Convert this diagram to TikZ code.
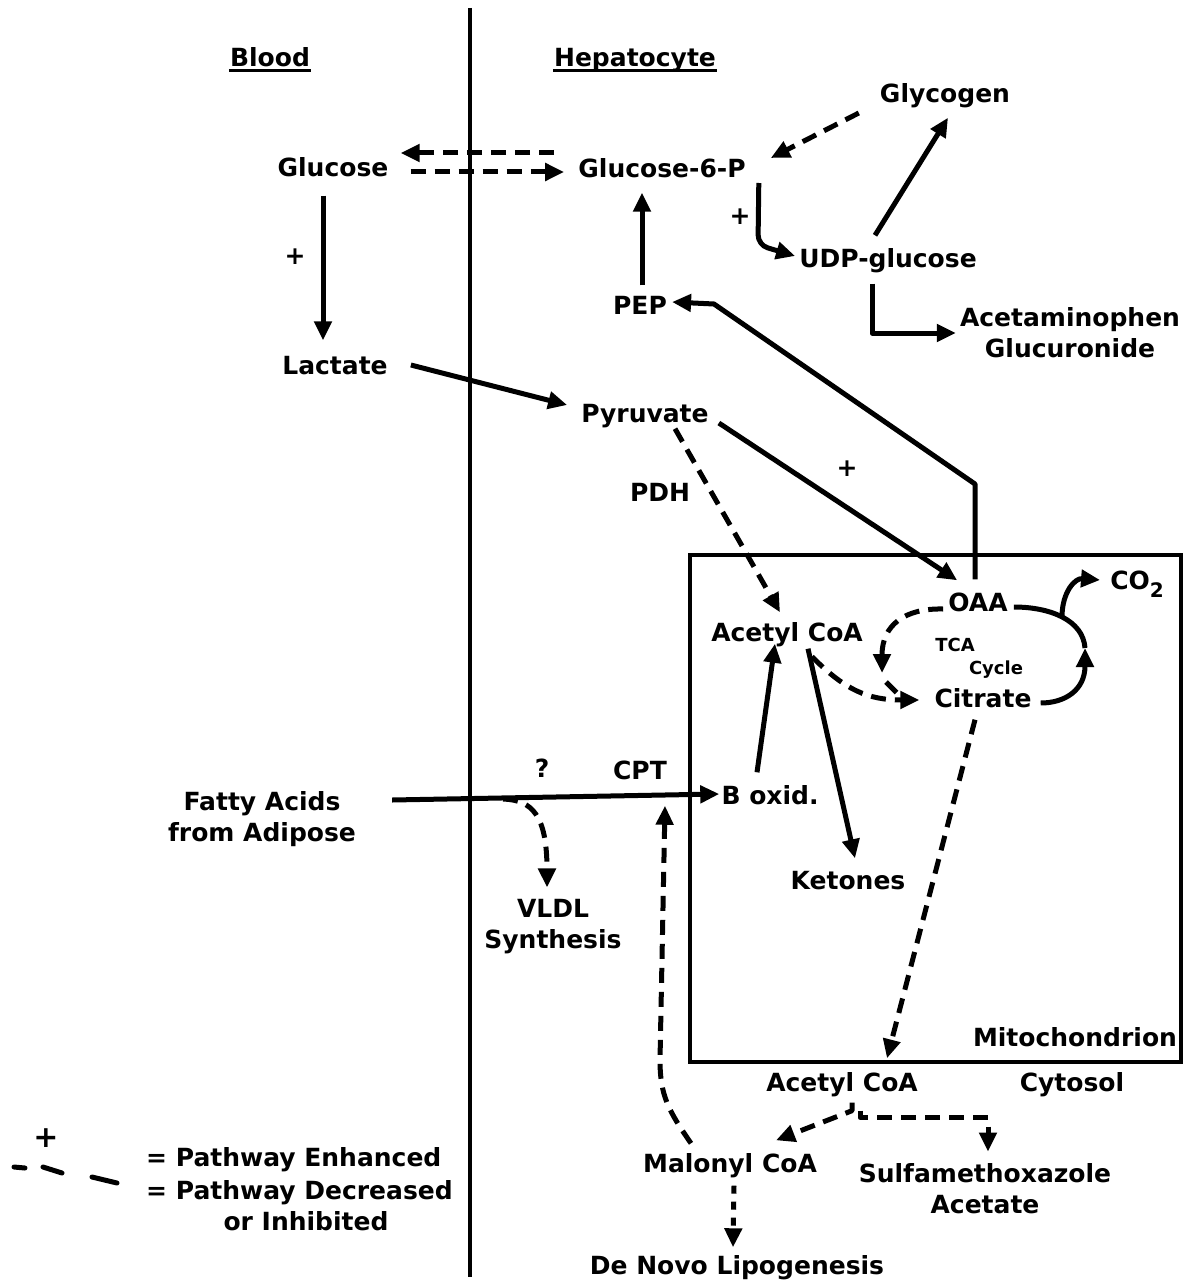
\documentclass[tikz,border=0pt]{standalone}
\usepackage{fontspec}
\setmainfont{DejaVu Sans}
\usetikzlibrary{arrows.meta}
\begin{document}
\begin{tikzpicture}[x=1pt,y=-1pt,
  lbl/.style={font=\fontsize{25}{31}\selectfont\bfseries, inner sep=4pt, text height=18pt, text depth=5pt},
  lbltwo/.style={font=\fontsize{25}{31}\selectfont\bfseries, inner sep=4pt, align=center},
  small/.style={font=\fontsize{18}{20}\selectfont\bfseries, inner sep=1pt},
  heavy/.style={line width=5pt, line join=round},
  flow/.style={heavy, -{Triangle[length=19pt,width=17pt]}},
  dflow/.style={flow, dash pattern=on 15pt off 9pt},
  dline/.style={heavy, dash pattern=on 15pt off 9pt},
  wall/.style={line width=4.5pt},
]
\useasboundingbox (0,0) rectangle (1184,1284);

% compartments
\draw[wall] (470,8) -- (470,1277);
\draw[wall] (690,555) rectangle (1181,1062);

% headings
\node[lbl] (blood) at (270,60) {Blood};
\node[lbl] (hep) at (635,60) {Hepatocyte};
\draw[line width=3pt, shorten <=3pt, shorten >=3pt] ([yshift=-4pt]blood.base west) -- ([yshift=-4pt]blood.base east);
\draw[line width=3pt, shorten <=3pt, shorten >=3pt] ([yshift=-4pt]hep.base west) -- ([yshift=-4pt]hep.base east);

% metabolites
\node[lbl] (glc) at (333,170) {Glucose};
\node[lbl] (g6p) at (662,171) {Glucose-6-P};
\node[lbl] (glyc) at (945,96) {Glycogen};
\node[lbl] (udp) at (888,261) {UDP-glucose};
\node[lbl] (pep) at (640,308) {PEP};
\node[lbltwo] (apap) at (1070,333) {Acetaminophen\\Glucuronide};
\node[lbl] (lac) at (335,368) {Lactate};
\node[lbl] (pyr) at (645,416) {Pyruvate};
\node[lbl] (pdh) at (660,495) {PDH};
\node[lbl] (plusA) at (847,470) {+};
\node[lbl] (plusB) at (295,258) {+};
\node[lbl] (plusC) at (740,218) {+};
\node[lbl] (acoa) at (787,635) {Acetyl CoA};
\node[lbl] (oaa) at (978,605) {OAA};
\node[small] (tca) at (955,645) {TCA};
\node[small] (cyc) at (996,670) {Cycle};
\node[lbl] (cit) at (983,701) {Citrate};
\node[lbl] (co2) at (1137,583) {CO\raisebox{-8pt}{\fontsize{20}{20}\selectfont 2}};
\node[lbl] (box) at (770,798) {B oxid.};
\node[lbl] (ket) at (848,883) {Ketones};
\node[lbl] (q) at (542,771) {?};
\node[lbl] (cpt) at (640,773) {CPT};
\node[lbltwo] (fa) at (262,819) {Fatty Acids\\from Adipose};
\node[lbltwo] (vldl) at (553,927) {VLDL\\Synthesis};
\node[lbl] (mito) at (1075,1040) {Mitochondrion};
\node[lbl] (acoa2) at (842,1085) {Acetyl CoA};
\node[lbl] (cyto) at (1072,1085) {Cytosol};
\node[lbl] (mal) at (730,1166) {Malonyl CoA};
\node[lbltwo] (smx) at (985,1189) {Sulfamethoxazole\\Acetate};
\node[lbl] (dnl) at (737,1268) {De Novo Lipogenesis};

% bends and branch points
\coordinate (bendA) at (758,245);
\coordinate (kneeA) at (975,484);
\coordinate (kneeB) at (714,304);
\coordinate (tcaR) at (1085,648);
\coordinate (co2fork) at (1062,617);
\coordinate (fork) at (503,799);

% glucose exchange between blood and hepatocyte
\draw[dflow] ([shift={(-20,-18)}]g6p.west) -- ([shift={(8,-17)}]glc.east);
\draw[dflow] ([shift={(18,2)}]glc.east) -- ([shift={(-10,1)}]g6p.west);

% carbohydrate pathways
\draw[flow] ([shift={(-10,10)}]glc.south) -- ([shift={(-12,-12)}]lac.north);
\draw[flow] ([shift={(2,-7)}]pep.north) -- ([shift={(-20,6)}]g6p.south);
\draw[flow, rounded corners=10pt] ([shift={(9,12)}]g6p.east) -- (bendA) -- ([shift={(0,-5)}]udp.west);
\draw[flow] ([shift={(-13,-10)}]udp.north) -- ([shift={(3,6)}]glyc.south);
\draw[dflow] ([shift={(-17,17)}]glyc.west) -- ([shift={(21,-13)}]g6p.east);
\draw[flow] ([shift={(-16,7)}]udp.south) |- (apap.west);
\draw[flow] ([shift={(19,-3)}]lac.east) -- ([shift={(-10,-11)}]pyr.west);
\draw[flow] ([shift={(6,7)}]pyr.east) -- ([shift={(13,-9)}]oaa.north west);
\draw[flow] ([shift={(-3,-10)}]oaa.north) -- (kneeA) -- (kneeB) -- ([shift={(1,-6)}]pep.east);
\draw[dflow] ([shift={(30,-3)}]pyr.south) -- ([shift={(-7,-7)}]acoa.north);

% mitochondrial reactions
\draw[flow] ([shift={(-13,-10)}]box.north) -- ([shift={(-12,-7)}]acoa.south);
\draw[flow] ([shift={(21,-2)}]acoa.south) -- ([shift={(7,-9)}]ket.north);
\draw[dflow] ([shift={(25,6)}]acoa.south) .. controls (845,690) and (868,700) .. ([shift={(-11,-1)}]cit.west);
\draw[dflow] ([shift={(-1,4)}]oaa.west) .. controls (905,608) and (882,625) .. (882,673);
\draw[dline] (886,682) -- (898,694);
\draw[heavy] (tcaR) .. controls (1083,620) and (1050,607) .. ([shift={(2,2)}]oaa.east);
\draw[flow] ([shift={(5,2)}]cit.east) .. controls (1065,703) and (1085,690) .. (tcaR);
\draw[flow] (co2fork) .. controls (1062,592) and (1075,578) .. ([shift={(-6,-3)}]co2.west);
\draw[dflow] ([shift={(-8,3)}]cit.south) -- ([shift={(45,-11)}]acoa2.north);

% fatty acids
\draw[flow] ([shift={(32,-19)}]fa.east) -- ([shift={(2,-4)}]box.west);
\draw[dflow] (fork) .. controls (532,800) and (547,815) .. ([shift={(-6,-8)}]vldl.north);

% cytosolic acetyl CoA and malonyl CoA
\draw[dflow] ([shift={(-39,-7)}]mal.north) .. controls (668,1110) and (660,1095) .. (660,1060) -- ([shift={(25,17)}]cpt.south);
\draw[dflow] ([shift={(10,2)}]acoa2.south) -- ++(0,8) -- ([shift={(46,-10)}]mal.north);
\draw[dflow] ([shift={(18,10)}]acoa2.south) -- ++(0,7) -| ([shift={(3,-8)}]smx.north);
\draw[flow, dash pattern=on 8pt off 8pt] ([shift={(4,4)}]mal.south) -- ([shift={(-4,-5)}]dnl.north);

% legend
\node[lbl, font=\fontsize{30}{31}\selectfont\bfseries] (lplus) at (46,1141) {+};
\draw[heavy, line cap=round] (14,1167) -- (25,1168);
\draw[heavy, line cap=round] (43,1167) -- (62,1173);
\draw[heavy, line cap=round] (92,1177) -- (117,1183);
\node[lbl, anchor=west] (lenh) at (142,1160) {= Pathway Enhanced};
\node[lbl, anchor=west] (ldec) at (142,1193) {= Pathway Decreased};
\node[lbl] (linh) at (306,1224) {or Inhibited};
\end{tikzpicture}
\end{document}
